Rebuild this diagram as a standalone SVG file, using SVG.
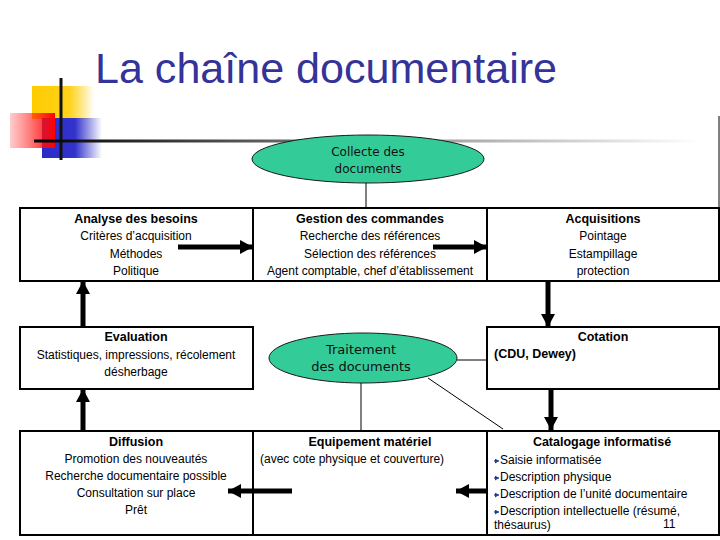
<svg xmlns="http://www.w3.org/2000/svg" width="720" height="540" viewBox="0 0 720 540">
<style>
.box{fill:#fff;stroke:#000;stroke-width:2}
.t{font-family:"Liberation Sans",Arial,sans-serif;font-size:12px;fill:#000}
.b{font-weight:bold;font-size:12.5px}
.c{text-anchor:middle}
.el{fill:#33CC99;stroke:#1a1a1a;stroke-width:1}
.et{font-family:"DejaVu Sans",Verdana,sans-serif;fill:#111;text-anchor:middle}
.thin{stroke:#000;stroke-width:1;fill:none}
.arr{stroke:#000;stroke-width:5;fill:none}
.bul{stroke:#1F3F8F;stroke-width:1.2;fill:none}
</style>
<defs>
<linearGradient id="gY" x1="0" x2="1" y1="0" y2="0"><stop offset="0" stop-color="#FFCC00"/><stop offset="0.6" stop-color="#FFD21A"/><stop offset="1" stop-color="#FFCC00" stop-opacity="0"/></linearGradient>
<linearGradient id="gR" x1="0" x2="1" y1="0" y2="0"><stop offset="0" stop-color="#FF3333" stop-opacity="0.25"/><stop offset="1" stop-color="#FF0000"/></linearGradient>
<linearGradient id="gB" x1="0" x2="1" y1="0" y2="0"><stop offset="0" stop-color="#2B2BC8"/><stop offset="0.55" stop-color="#3333CC"/><stop offset="1" stop-color="#3333CC" stop-opacity="0"/></linearGradient>
<linearGradient id="gL" x1="34" x2="700" y1="0" y2="0" gradientUnits="userSpaceOnUse"><stop offset="0" stop-color="#000"/><stop offset="0.5" stop-color="#888"/><stop offset="1" stop-color="#fff"/></linearGradient>
<marker id="ah" markerUnits="userSpaceOnUse" markerWidth="14" markerHeight="14" refX="13" refY="7" orient="auto"><path d="M0,0 L13,7 L0,14 Z" fill="#000"/></marker>
<marker id="sh" markerUnits="userSpaceOnUse" markerWidth="5" markerHeight="5" refX="4" refY="2.5" orient="auto"><path d="M0,0 L4,2.5 L0,5 Z" fill="#1F3F8F"/></marker>
</defs>

<g id="header">
<rect x="32" y="86" width="62" height="33" fill="url(#gY)"/>
<rect x="42" y="118" width="60" height="40" fill="url(#gB)"/>
<rect x="10" y="113" width="45" height="35" fill="url(#gR)"/>
<line x1="61" y1="78" x2="61" y2="160" stroke="#111" stroke-width="3"/>
<line x1="34" y1="141" x2="700" y2="141" stroke="url(#gL)" stroke-width="3"/>
<text x="95" y="83" font-family="Liberation Sans,Arial,sans-serif" font-size="42" fill="#333399" textLength="462" lengthAdjust="spacingAndGlyphs">La chaîne documentaire</text>
</g>

<g id="collecte">
<ellipse class="el" cx="368" cy="159" rx="116" ry="24"/>
<text class="et" x="368" y="156" font-size="12">Collecte des</text>
<text class="et" x="368" y="173" font-size="12">documents</text>
</g>

<g id="analyse">
<rect class="box" x="20" y="208" width="233" height="73"/>
<text class="t b c" x="136" y="223">Analyse des besoins</text>
<text class="t c" x="136" y="240">Critères d’acquisition</text>
<text class="t c" x="136" y="258">Méthodes</text>
<text class="t c" x="136" y="275">Politique</text>
</g>

<g id="gestion">
<rect class="box" x="253" y="208" width="234" height="73"/>
<text class="t b c" x="370" y="223">Gestion des commandes</text>
<text class="t c" x="370" y="240">Recherche des références</text>
<text class="t c" x="370" y="258">Sélection des références</text>
<text class="t c" x="370" y="275">Agent comptable, chef d’établissement</text>
</g>

<g id="acquisitions">
<rect class="box" x="487" y="208" width="232" height="73"/>
<text class="t b c" x="603" y="223">Acquisitions</text>
<text class="t c" x="603" y="240">Pointage</text>
<text class="t c" x="603" y="258">Estampillage</text>
<text class="t c" x="603" y="275">protection</text>
</g>

<g id="evaluation">
<rect class="box" x="20" y="327" width="233" height="62"/>
<text class="t b c" x="136" y="341">Evaluation</text>
<text class="t c" x="136" y="359">Statistiques, impressions, récolement</text>
<text class="t c" x="136" y="376">désherbage</text>
</g>

<g id="traitement">
<ellipse class="el" cx="363" cy="358" rx="94" ry="25"/>
<text class="et" x="361" y="354" font-size="13">Traitement</text>
<text class="et" x="361" y="371" font-size="13">des documents</text>
</g>

<g id="cotation">
<rect class="box" x="487" y="327" width="232" height="62"/>
<text class="t b c" x="603" y="341">Cotation</text>
<text class="t b" x="494" y="358">(CDU, Dewey)</text>
</g>

<g id="diffusion">
<rect class="box" x="20" y="431" width="233" height="104"/>
<text class="t b c" x="136" y="446">Diffusion</text>
<text class="t c" x="136" y="463">Promotion des nouveautés</text>
<text class="t c" x="136" y="480">Recherche documentaire possible</text>
<text class="t c" x="136" y="497">Consultation sur place</text>
<text class="t c" x="136" y="514">Prêt</text>
</g>

<g id="equipement">
<rect class="box" x="253" y="431" width="234" height="104"/>
<text class="t b c" x="370" y="446">Equipement matériel</text>
<text class="t" x="260" y="463">(avec cote physique et couverture)</text>
</g>

<g id="catalogage">
<rect class="box" x="487" y="431" width="232" height="104"/>
<text class="t b c" x="602" y="446" font-size="13">Catalogage informatisé</text>
<path class="bul" d="M494,461 L499,461" marker-end="url(#sh)"/>
<text class="t" x="500" y="464">Saisie informatisée</text>
<path class="bul" d="M494,478 L499,478" marker-end="url(#sh)"/>
<text class="t" x="500" y="481">Description physique</text>
<path class="bul" d="M494,495 L499,495" marker-end="url(#sh)"/>
<text class="t" x="500" y="498">Description de l’unité documentaire</text>
<path class="bul" d="M494,512 L499,512" marker-end="url(#sh)"/>
<text class="t" x="500" y="515">Description intellectuelle (résumé,</text>
<text class="t" x="494" y="529">thésaurus)</text>
<text class="t" x="663" y="528" font-size="13">11</text>
</g>

<g id="connectors">
<line class="thin" x1="719" y1="116" x2="719" y2="208"/>
<line class="thin" x1="366" y1="183" x2="366" y2="208"/>
<line class="thin" x1="457" y1="360" x2="487" y2="360"/>
<line class="thin" x1="361" y1="383" x2="361" y2="431"/>
<line class="thin" x1="428" y1="378" x2="503" y2="429"/>
<line class="arr" x1="178" y1="247" x2="253" y2="247" marker-end="url(#ah)"/>
<line class="arr" x1="433" y1="247" x2="487" y2="247" marker-end="url(#ah)"/>
<line class="arr" x1="548" y1="281" x2="548" y2="327" marker-end="url(#ah)"/>
<line class="arr" x1="551" y1="389" x2="551" y2="430" marker-end="url(#ah)"/>
<line class="arr" x1="487" y1="491" x2="456" y2="491" marker-end="url(#ah)"/>
<line class="arr" x1="292" y1="491" x2="228" y2="491" marker-end="url(#ah)"/>
<line class="arr" x1="83" y1="431" x2="83" y2="389" marker-end="url(#ah)"/>
<line class="arr" x1="83" y1="327" x2="83" y2="281" marker-end="url(#ah)"/>
</g>
</svg>
